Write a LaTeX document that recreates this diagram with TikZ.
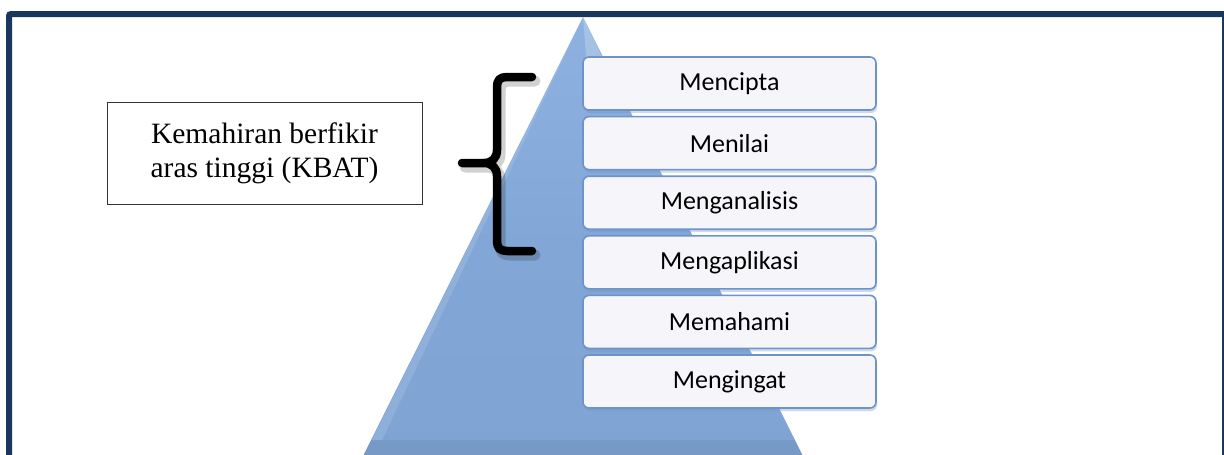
\documentclass[tikz,border=0pt]{standalone}
\usepackage{fontspec}
\setmainfont{Liberation Serif}
\newfontfamily\calibri{Carlito}
\definecolor{frameblue}{HTML}{17375E}
\definecolor{pyrtop}{HTML}{8EB1E0}
\definecolor{pyrmid}{HTML}{82A7D7}
\definecolor{pyrbot}{HTML}{7FA3D3}
\definecolor{boxedge}{HTML}{6E93C9}
\definecolor{boxfill}{HTML}{F6F6FA}
\tikzset{
  levelbox/.style={draw=boxedge, line width=1.6pt, fill=boxfill, rounded corners=6pt,
    minimum width=293pt, minimum height=53pt, inner sep=0pt,
    font=\calibri\fontsize{26}{30}\selectfont, text=black},
  kbatbox/.style={draw=black!80, line width=1pt, fill=white, minimum width=315pt,
    minimum height=102pt, inner sep=0pt, align=center,
    font=\fontsize{29.5}{34}\selectfont},
  bracestroke/.style={line width=8.5pt, line cap=round, line join=round},
}
\begin{document}
\begin{tikzpicture}[x=1pt,y=-1pt]
\useasboundingbox (0,0) rectangle (1224,455);
\begin{scope}
\clip (0,0) rectangle (1224,455);
% frame
\draw[frameblue, line width=6pt, rounded corners=2pt] (9,14) rectangle (1225,480);
% pyramid
\shade[top color=pyrtop, bottom color=pyrbot, middle color=pyrmid]
  (583,17) -- (810,470) -- (356,470) -- cycle;
\fill[white, opacity=0.22] (583,17) -- (625,105) -- (590,105) -- cycle;
\fill[white, opacity=0.12] (583,17) -- (372,440) -- (382,440) -- cycle;
\fill[black, opacity=0.06] (371.5,440) -- (794.5,440) -- (810,470) -- (356,470) -- cycle;
% level boxes
\foreach \t/\n [count=\i from 0] in {Mencipta/l1, Menilai/l2, Menganalisis/l3,
    Mengaplikasi/l4, Memahami/l5, Mengingat/l6}{
  \fill[boxedge, opacity=0.35, rounded corners=6pt]
    (584,{57+59.6*\i+2}) rectangle (877,{57+59.6*\i+56});
  \node[levelbox] (\n) at (729.5,{83.5+59.6*\i}) {\t};
}
% brace shadow
\begin{scope}[shift={(3,4)}]
\draw[bracestroke, black, opacity=0.18, line width=11pt]
  (532,77) -- (507,77) .. controls (500,77) and (497,80) .. (497,87) -- (497,150)
  .. controls (497,158) and (492,163) .. (484,163) -- (462,163)
  (484,163) .. controls (492,163) and (497,168) .. (497,176) -- (497,241)
  .. controls (497,248) and (500,251) .. (507,251) -- (532,251);
\end{scope}
% brace
\draw[bracestroke, black]
  (532,77) -- (507,77) .. controls (500,77) and (497,80) .. (497,87) -- (497,150)
  .. controls (497,158) and (492,163) .. (484,163) -- (462,163)
  (484,163) .. controls (492,163) and (497,168) .. (497,176) -- (497,241)
  .. controls (497,248) and (500,251) .. (507,251) -- (532,251);
% KBAT box
\node[kbatbox] (kbat) at (264.5,153) {Kemahiran berfikir\\aras tinggi (KBAT)};
\end{scope}
\end{tikzpicture}
\end{document}
